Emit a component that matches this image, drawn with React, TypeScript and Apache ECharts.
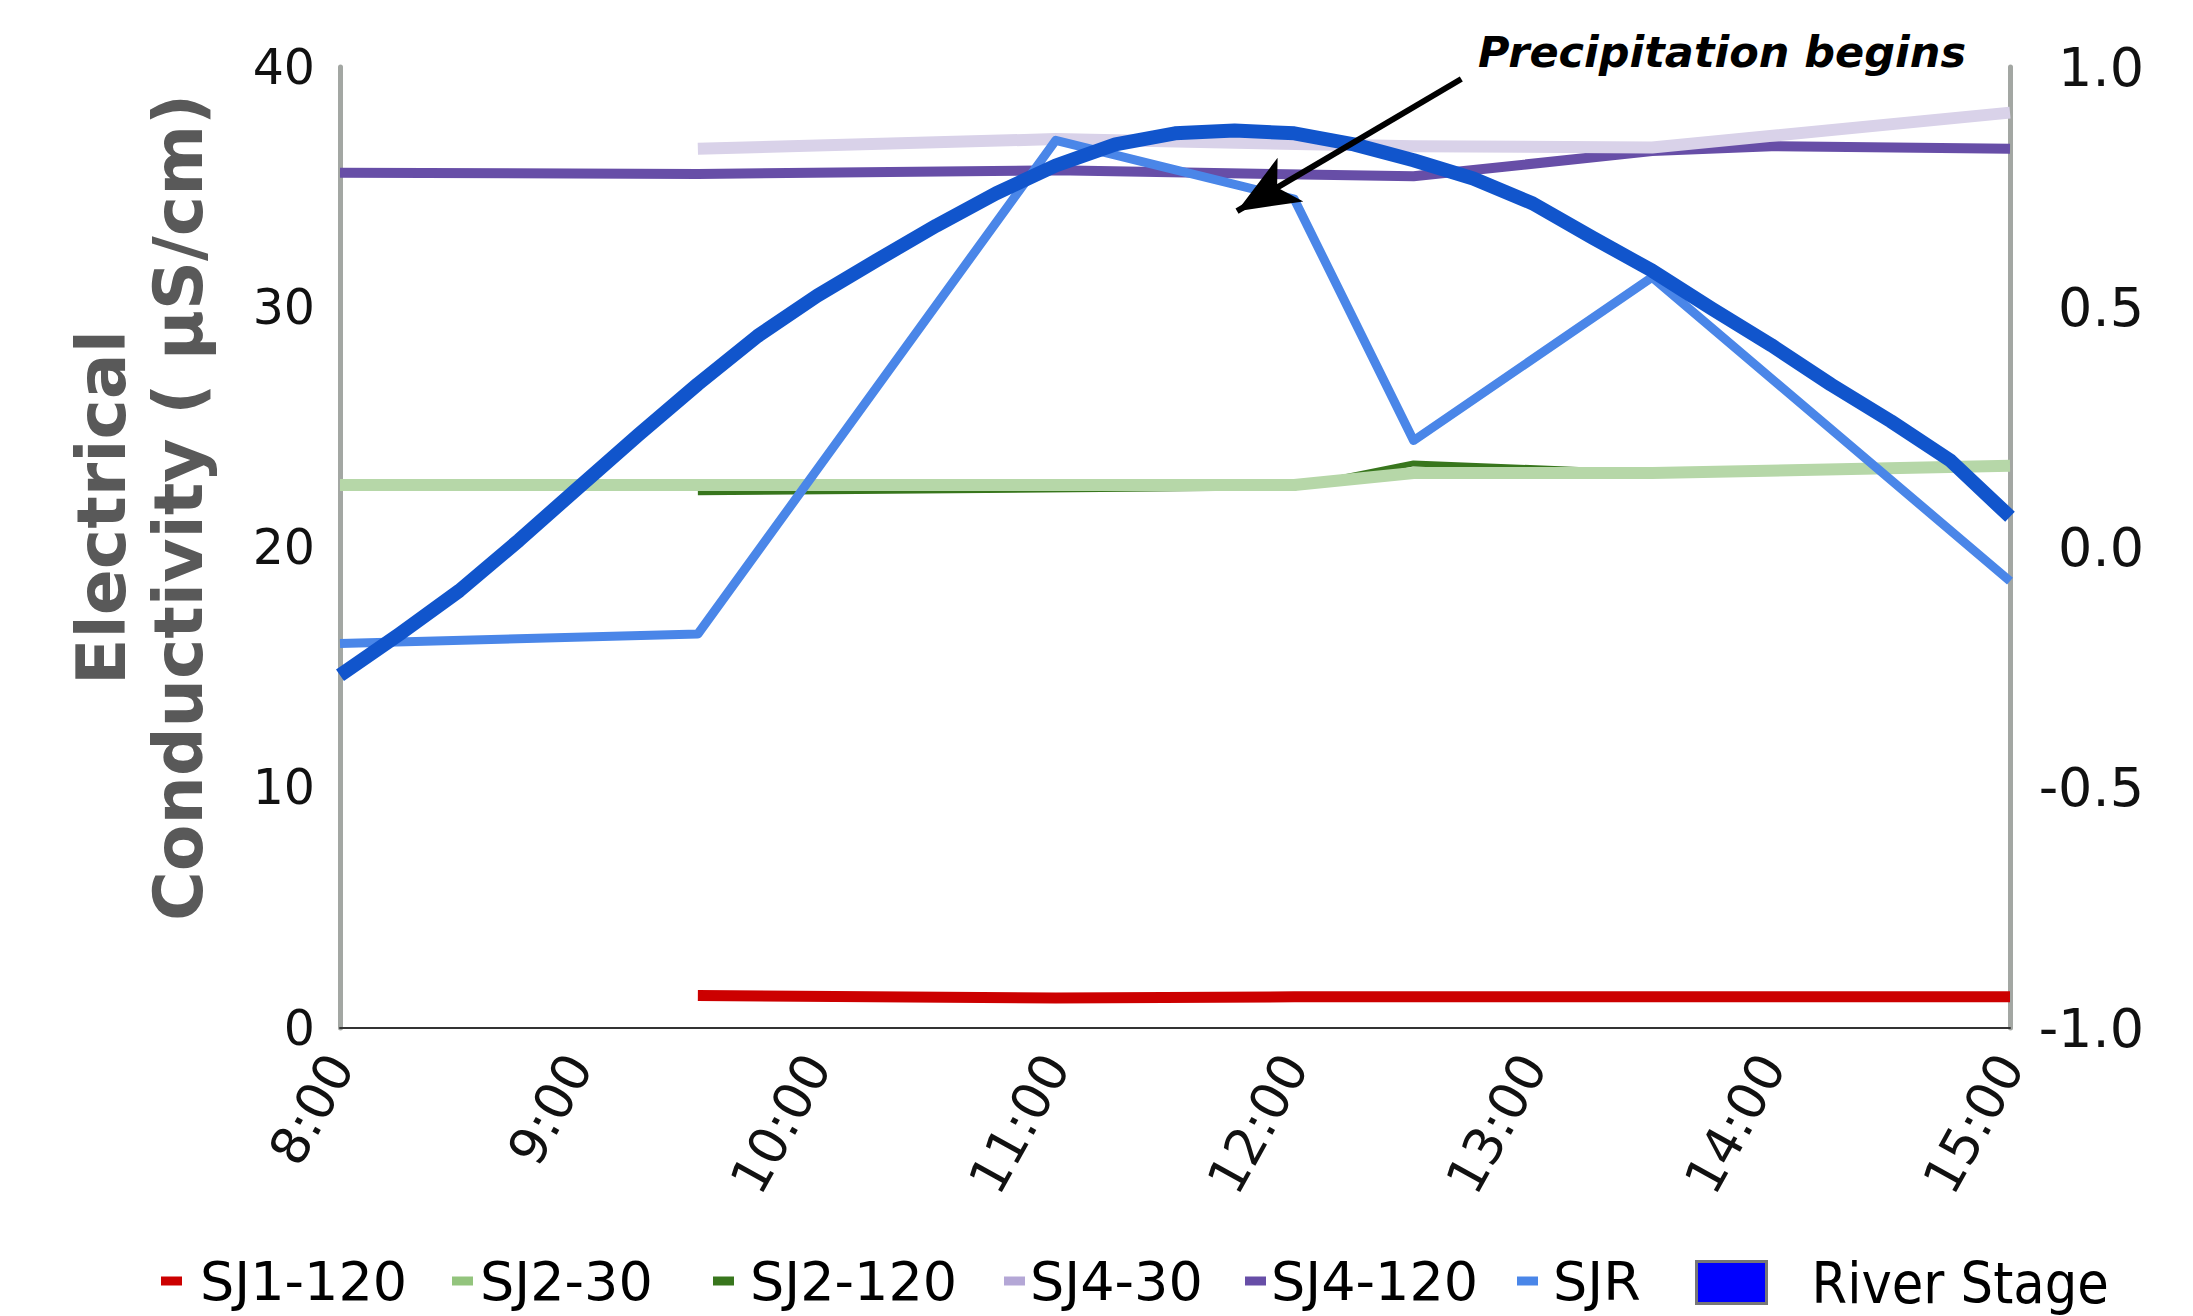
import React, { useEffect, useRef } from "react";
import * as echarts from "echarts";

// ---- Data (time in decimal hours) ----
const X_TICK_LABELS = ["8:00", "9:00", "10:00", "11:00", "12:00", "13:00", "14:00", "15:00"];
const Y_LEFT_TICKS = [0, 10, 20, 30, 40];
const Y_RIGHT_TICKS = [-1.0, -0.5, 0.0, 0.5, 1.0];

const SJ1_120_T = [9.5, 11, 12, 13.5, 15];
const SJ1_120_V = [1.35, 1.25, 1.3, 1.3, 1.3];

const SJ2_30_T = [8, 9.5, 12, 12.5, 13.5, 15];
const SJ2_30_V = [22.6, 22.6, 22.6, 23.1, 23.1, 23.4];

const SJ2_120_T = [9.5, 12, 12.5, 13.5];
const SJ2_120_V = [22.3, 22.5, 23.5, 23.1];

const SJ4_30_T = [9.5, 11, 12.5, 13.5, 15];
const SJ4_30_V = [36.6, 37.0, 36.7, 36.65, 38.1];

const SJ4_120_T = [8, 9.5, 11, 12.5, 13.5, 14, 15];
const SJ4_120_V = [35.6, 35.55, 35.7, 35.45, 36.5, 36.7, 36.6];

const SJR_T = [8, 9.5, 11, 12, 12.5, 13.5, 15];
const SJR_V = [16.0, 16.4, 36.95, 34.5, 24.45, 31.25, 18.6];

const RIVER_T = [8, 8.25, 8.5, 8.75, 9, 9.25, 9.5, 9.75, 10, 10.25, 10.5, 10.75, 11, 11.25, 11.5, 11.75, 12, 12.25, 12.5, 12.75, 13, 13.25, 13.5, 13.75, 14, 14.25, 14.5, 14.75, 15];
const RIVER_V = [-0.266, -0.18, -0.09, 0.015, 0.125, 0.234, 0.34, 0.44, 0.524, 0.598, 0.67, 0.737, 0.795, 0.839, 0.862, 0.868, 0.862, 0.839, 0.806, 0.768, 0.716, 0.645, 0.576, 0.497, 0.421, 0.339, 0.263, 0.181, 0.064];

// annotation arrow (time, river-stage units)
const ARROW_FROM = [12.7, 0.975];
const ARROW_TO = [11.76, 0.70];
const ANNOTATION = "Precipitation begins";

const zip = (t: number[], v: number[]) => t.map((x, i) => [x, v[i]]);

const FONT = "DejaVu Sans";
const FONT_C = "DejaVu Sans Condensed";

export default function App() {
  const ref = useRef<HTMLDivElement>(null);
  useEffect(() => {
    if (!ref.current) return;
    const chart = echarts.init(ref.current, undefined, { renderer: "svg" });

    const line = (name: string, t: number[], v: number[], color: string, width: number, yAxisIndex = 0, extra: any = {}) => ({
      name,
      type: "line",
      yAxisIndex,
      data: zip(t, v),
      showSymbol: false,
      symbol: "none",
      color,
      lineStyle: { color, width, cap: "butt", join: "round" },
      emphasis: { disabled: true },
      silent: true,
      ...extra,
    });

    const legendTop = 1254;
    const legendItem = (name: string, left: number, color: string, gap: number) => ({
      show: true,
      left,
      top: legendTop,
      padding: 0,
      itemGap: 0,
      itemWidth: 21,
      itemHeight: 9,
      selectedMode: false,
      data: [{ name, icon: "rect", itemStyle: { color, borderWidth: 0 } }],
      textStyle: {
        fontFamily: FONT,
        fontSize: 54,
        color: "#000",
        lineHeight: 54,
        padding: [0, 0, 0, gap],
      },
    });

    chart.setOption({
      animation: false,
      backgroundColor: "#ffffff",
      grid: { left: 340, right: 183, top: 67, bottom: 288, containLabel: false },
      legend: [
        legendItem("SJ1-120", 161, "#cc0000", 13),
        legendItem("SJ2-30", 452, "#93c47d", 2),
        legendItem("SJ2-120", 713, "#38761d", 11),
        legendItem("SJ4-30", 1004, "#b4a7d6", 0),
        legendItem("SJ4-120", 1245, "#674ea7", 0),
        legendItem("SJR", 1517, "#4a86e8", 10),
        {
          show: true,
          left: 1695,
          top: legendTop,
          padding: 0,
          itemWidth: 70,
          itemHeight: 42,
          selectedMode: false,
          data: [{ name: "River Stage", icon: "rect", itemStyle: { color: "#0000ff", borderColor: "#777777", borderWidth: 3 } }],
          textStyle: { fontFamily: FONT_C, fontSize: 57, color: "#000", lineHeight: 54, padding: [0, 0, 0, 40] },
        },
      ],
      xAxis: {
        type: "value",
        min: 8,
        max: 15,
        interval: 1,
        axisLine: { show: true, onZero: false, lineStyle: { color: "#333333", width: 2 } },
        axisTick: { show: false },
        splitLine: { show: false },
        axisLabel: {
          rotate: 61,
          margin: 30,
          fontSize: 52,
          fontFamily: FONT,
          color: "#111",
          padding: [50, 0, 0, 0],
          formatter: (v: number) => X_TICK_LABELS[Math.round(v - 8)] ?? "",
        },
      },
      yAxis: [
        {
          type: "value",
          position: "left",
          min: Y_LEFT_TICKS[0],
          max: Y_LEFT_TICKS[Y_LEFT_TICKS.length - 1],
          interval: 10,
          axisLine: { show: true, onZero: false, lineStyle: { color: "#a3a7a3", width: 5 } },
          axisTick: { show: false },
          splitLine: { show: false },
          axisLabel: { fontSize: 49, fontFamily: FONT, color: "#111", margin: 25 },
          name: "Electrical\nConductivity ( µS/cm)",
          nameLocation: "middle",
          nameGap: 123,
          nameRotate: 90,
          nameTextStyle: {
            fontSize: 68,
            fontWeight: "bold",
            fontFamily: FONT,
            color: "#595959",
            lineHeight: 77,
            padding: [0, 0, 0, 80],
          },
        },
        {
          type: "value",
          position: "right",
          min: Y_RIGHT_TICKS[0],
          max: Y_RIGHT_TICKS[Y_RIGHT_TICKS.length - 1],
          interval: 0.5,
          axisLine: { show: true, onZero: false, lineStyle: { color: "#a3a7a3", width: 5 } },
          axisTick: { show: false },
          splitLine: { show: false },
          axisLabel: {
            fontSize: 54,
            fontFamily: FONT,
            color: "#111",
            margin: 134,
            align: "right",
            formatter: (v: number) => v.toFixed(1),
          },
        },
      ],
      series: [
        line("SJ1-120", SJ1_120_T, SJ1_120_V, "#cc0000", 11),
        line("SJ2-120", SJ2_120_T, SJ2_120_V, "#38761d", 6),
        line("SJ2-30", SJ2_30_T, SJ2_30_V, "#b6d7a8", 12),
        line("SJ4-120", SJ4_120_T, SJ4_120_V, "#674ea7", 10),
        line("SJ4-30", SJ4_30_T, SJ4_30_V, "#d9d2e9", 12),
        line("SJR", SJR_T, SJR_V, "#4a86e8", 9),
        line("River Stage", RIVER_T, RIVER_V, "#1155cc", 14, 1, {
          markLine: {
            silent: true,
            animation: false,
            symbol: ["none", "arrow"],
            symbolSize: [38, 62],
            label: { show: false },
            emphasis: { disabled: true },
            lineStyle: { color: "#000000", width: 6, type: "solid" },
            data: [[{ coord: ARROW_FROM }, { coord: ARROW_TO }]],
          },
        }),
      ],
      graphic: [
        {
          type: "text",
          x: 1478,
          y: 52,
          style: {
            text: ANNOTATION,
            fontFamily: FONT,
            fontSize: 43,
            fontWeight: "bold",
            fontStyle: "italic",
            fill: "#000",
            align: "left",
            verticalAlign: "middle",
          },
        },
      ],
    });
    return () => chart.dispose();
  }, []);
  return <div ref={ref} style={{ position: "absolute", left: 0, top: 0, width: 2193, height: 1316 }} />;
}
